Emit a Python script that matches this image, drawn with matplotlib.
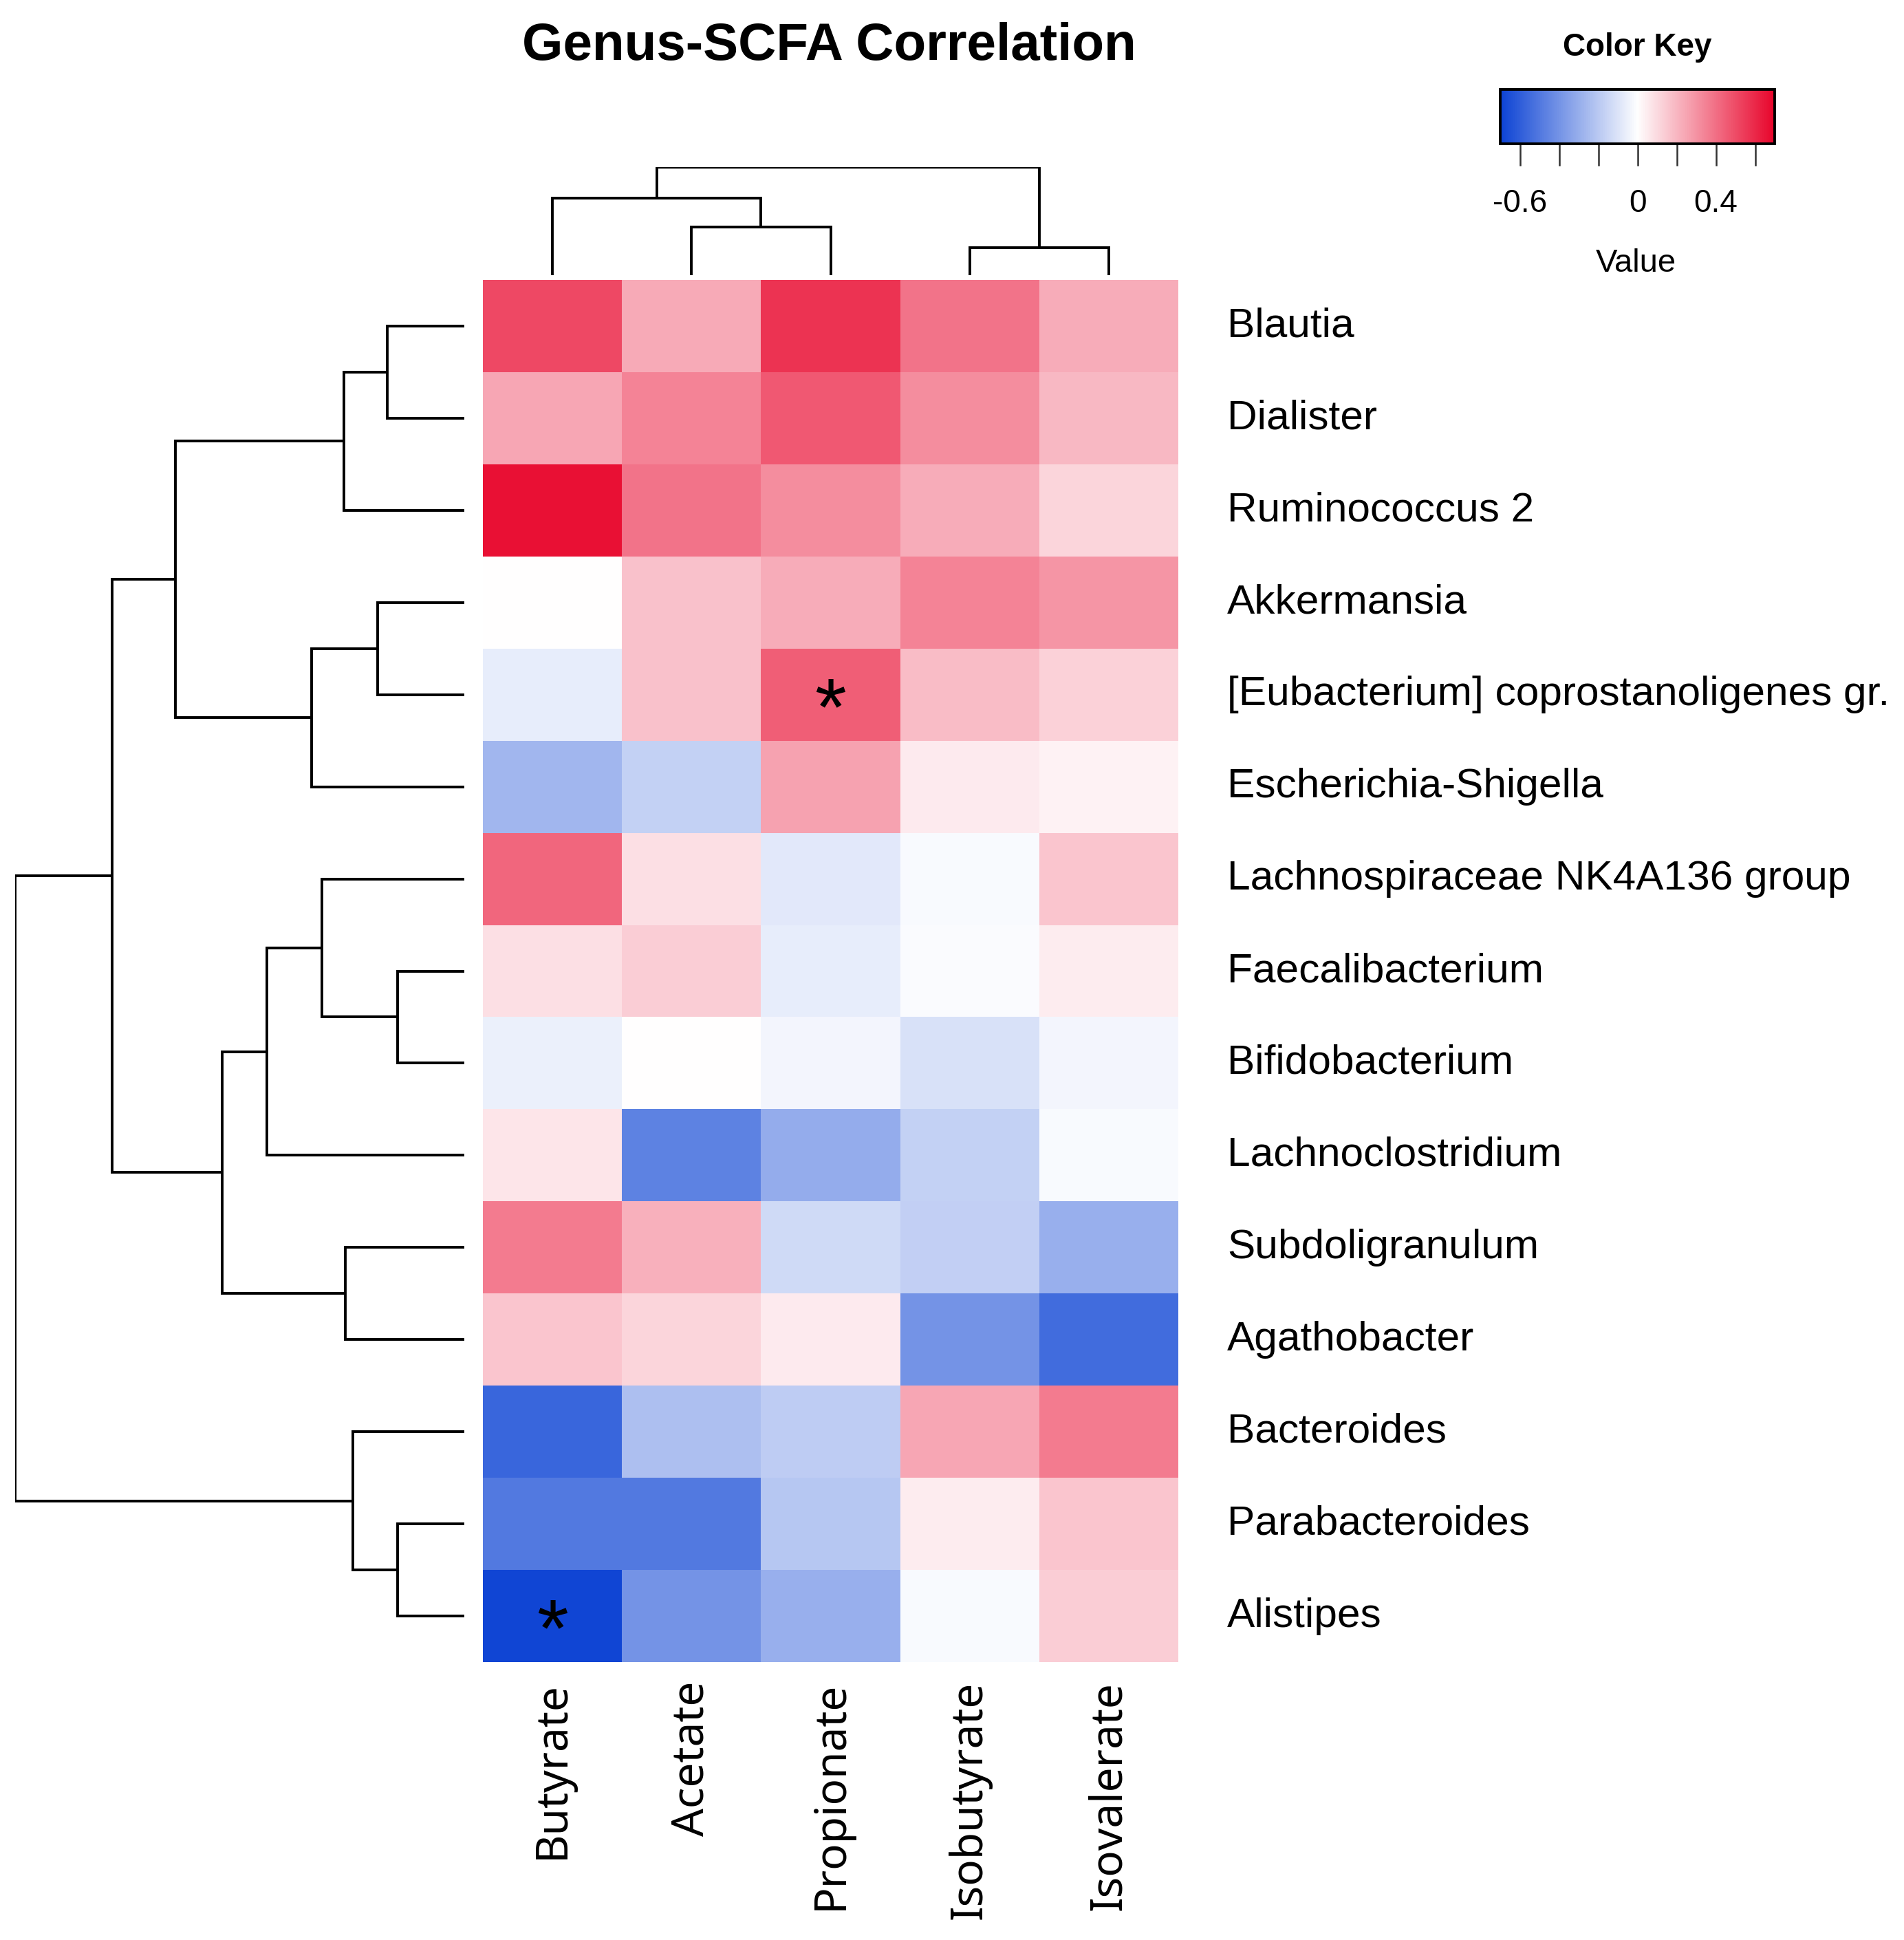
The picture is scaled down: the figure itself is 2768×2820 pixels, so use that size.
import numpy as np
import matplotlib
matplotlib.use("Agg")
import matplotlib.pyplot as plt
from matplotlib.colors import LinearSegmentedColormap, Normalize
from matplotlib.transforms import blended_transform_factory

# ---------------- data ----------------
genera = ["Blautia", "Dialister", "Ruminococcus 2", "Akkermansia",
          "[Eubacterium] coprostanoligenes gr.", "Escherichia-Shigella",
          "Lachnospiraceae NK4A136 group", "Faecalibacterium", "Bifidobacterium",
          "Lachnoclostridium", "Subdoligranulum", "Agathobacter",
          "Bacteroides", "Parabacteroides", "Alistipes"]
scfas = ["Butyrate", "Acetate", "Propionate", "Isobutyrate", "Isovalerate"]

butyrate    = [0.51, 0.25, 0.67, 0.005, -0.07, -0.27, 0.43, 0.09, -0.055, 0.075, 0.37, 0.16, -0.57, -0.50, -0.69]
acetate     = [0.24, 0.35, 0.39, 0.17, 0.17, -0.17, 0.09, 0.14, 0.0, -0.47, 0.22, 0.12, -0.24, -0.50, -0.40]
propionate  = [0.57, 0.47, 0.32, 0.23, 0.45, 0.26, -0.085, -0.07, -0.035, -0.31, -0.14, 0.06, -0.19, -0.21, -0.30]
isobutyrate = [0.39, 0.32, 0.23, 0.35, 0.19, 0.06, -0.02, -0.015, -0.11, -0.17, -0.18, -0.40, 0.25, 0.05, -0.02]
isovalerate = [0.23, 0.20, 0.12, 0.30, 0.13, 0.035, 0.16, 0.05, -0.035, -0.02, -0.30, -0.55, 0.37, 0.16, 0.14]

significant = [("[Eubacterium] coprostanoligenes gr.", "Propionate"), ("Alistipes", "Butyrate")]

# dendrogram merges: (child_a, child_b, height); "m<i>" refers to the i-th merge
row_links = [
    ("Blautia", "Dialister", 62),
    ("m0", "Ruminococcus 2", 97),
    ("Akkermansia", "[Eubacterium] coprostanoligenes gr.", 70),
    ("m2", "Escherichia-Shigella", 123),
    ("m1", "m3", 233),
    ("Faecalibacterium", "Bifidobacterium", 54),
    ("Lachnospiraceae NK4A136 group", "m5", 115),
    ("m6", "Lachnoclostridium", 159),
    ("Subdoligranulum", "Agathobacter", 96),
    ("m7", "m8", 195),
    ("m4", "m9", 284),
    ("Parabacteroides", "Alistipes", 54),
    ("Bacteroides", "m11", 90),
    ("m10", "m12", 362),
]
col_links = [
    ("Acetate", "Propionate", 71),
    ("Butyrate", "m0", 113),
    ("Isobutyrate", "Isovalerate", 41),
    ("m1", "m2", 159),
]

key_ticks = [-0.6, -0.4, -0.2, 0.0, 0.2, 0.4, 0.6]
key_labels = ["-0.6", "", "", "0", "", "0.4", ""]
vlim = 0.7

# ---------------- figure ----------------
W, H = 2768, 2820
DPI = 100
fig = plt.figure(figsize=(W / DPI, H / DPI), dpi=DPI)
fig.patch.set_facecolor("white")


def box(l, t, r, b):
    return [l / W, 1 - b / H, (r - l) / W, (b - t) / H]


cmap = LinearSegmentedColormap.from_list(
    "bwr_key", [(14 / 255, 68 / 255, 212 / 255), (1, 1, 1), (232 / 255, 6 / 255, 44 / 255)])
norm = Normalize(-vlim, vlim)

M = np.array([butyrate, acetate, propionate, isobutyrate, isovalerate]).T

HL, HT, HR, HB = 702, 407, 1713, 2416
ax = fig.add_axes(box(HL, HT, HR, HB))
ax.pcolormesh(np.arange(len(scfas) + 1), np.arange(len(genera) + 1), M,
              cmap=cmap, norm=norm, shading="flat", edgecolors="none", antialiased=False)
ax.set_xlim(0, len(scfas))
ax.set_ylim(len(genera), 0)
ax.axis("off")

# significance marks
for g, s in significant:
    i = genera.index(g)
    j = scfas.index(s)
    ax.annotate("*", xy=(j + 0.5, i + 0.5), xytext=(0, -20), textcoords="offset points",
                ha="center", va="center", fontsize=85, color="black",
                family="Liberation Sans")

# row labels
trans_row = blended_transform_factory(fig.transFigure, ax.transData)
for i, g in enumerate(genera):
    fig.text(1784 / W, i + 0.5, g, transform=trans_row, ha="left", va="center",
             fontsize=43.5, family="Liberation Sans", color="black")

# column labels
trans_col = blended_transform_factory(ax.transData, fig.transFigure)
for j, s in enumerate(scfas):
    fig.text(j + 0.5, 1 - 2444 / H, s, transform=trans_col, rotation=90,
             ha="center", va="top", fontsize=46, family="Noto Sans", color="black")


# ---------------- dendrograms ----------------
def build_segments(links, leaves):
    pos = {name: float(k) + 0.5 for k, name in enumerate(leaves)}
    hgt = {name: 0.0 for name in leaves}
    segs = []
    for k, (a, b, h) in enumerate(links):
        pa, pb = pos[a], pos[b]
        segs.append(([pa, pa, pb, pb], [hgt[a], h, h, hgt[b]]))
        pos["m%d" % k] = (pa + pb) / 2
        hgt["m%d" % k] = h
    return segs


lw = 2.8
# row dendrogram (root on the left)
axr = fig.add_axes(box(22, HT, 675, HB))
for p, h in build_segments(row_links, genera):
    axr.plot(h, p, color="black", lw=lw, solid_joinstyle="miter", solid_capstyle="butt")
axr.set_ylim(len(genera), 0)
axr.set_xlim(max(l[2] for l in row_links), 0)
axr.axis("off")

# column dendrogram (root at top)
axc = fig.add_axes(box(HL, 243, HR, 400))
for p, h in build_segments(col_links, scfas):
    axc.plot(p, h, color="black", lw=lw, solid_joinstyle="miter", solid_capstyle="butt")
axc.set_xlim(0, len(scfas))
axc.set_ylim(0, max(l[2] for l in col_links))
axc.axis("off")

# ---------------- title ----------------
fig.text(1205 / W, 1 - 67 / H, "Genus-SCFA Correlation", ha="center", va="center",
         fontsize=55, fontweight="bold", family="Liberation Sans")

# ---------------- color key ----------------
axk = fig.add_axes(box(2181, 130, 2580, 209))
grad = np.linspace(-vlim, vlim, 400).reshape(1, -1)
axk.imshow(grad, extent=(-vlim, vlim, 0, 1), aspect="auto", cmap=cmap, norm=norm,
           interpolation="nearest")
axk.set_xlim(-vlim, vlim)
axk.set_ylim(0, 1)
axk.set_yticks([])
axk.set_xticks(key_ticks)
axk.set_xticklabels(key_labels, fontsize=33, family="Liberation Sans")
axk.tick_params(axis="x", length=23, width=1.8, color="#333333", pad=24)
for sp in axk.spines.values():
    sp.set_linewidth(2.8)
    sp.set_color("black")
fig.text(2380 / W, 1 - 69 / H, "Color Key", ha="center", va="center",
         fontsize=33, fontweight="bold", family="Liberation Sans")
fig.text(2378 / W, 1 - 383 / H, "Value", ha="center", va="center",
         fontsize=34, family="Liberation Sans")

fig.savefig("out.png", dpi=DPI, facecolor="white")
